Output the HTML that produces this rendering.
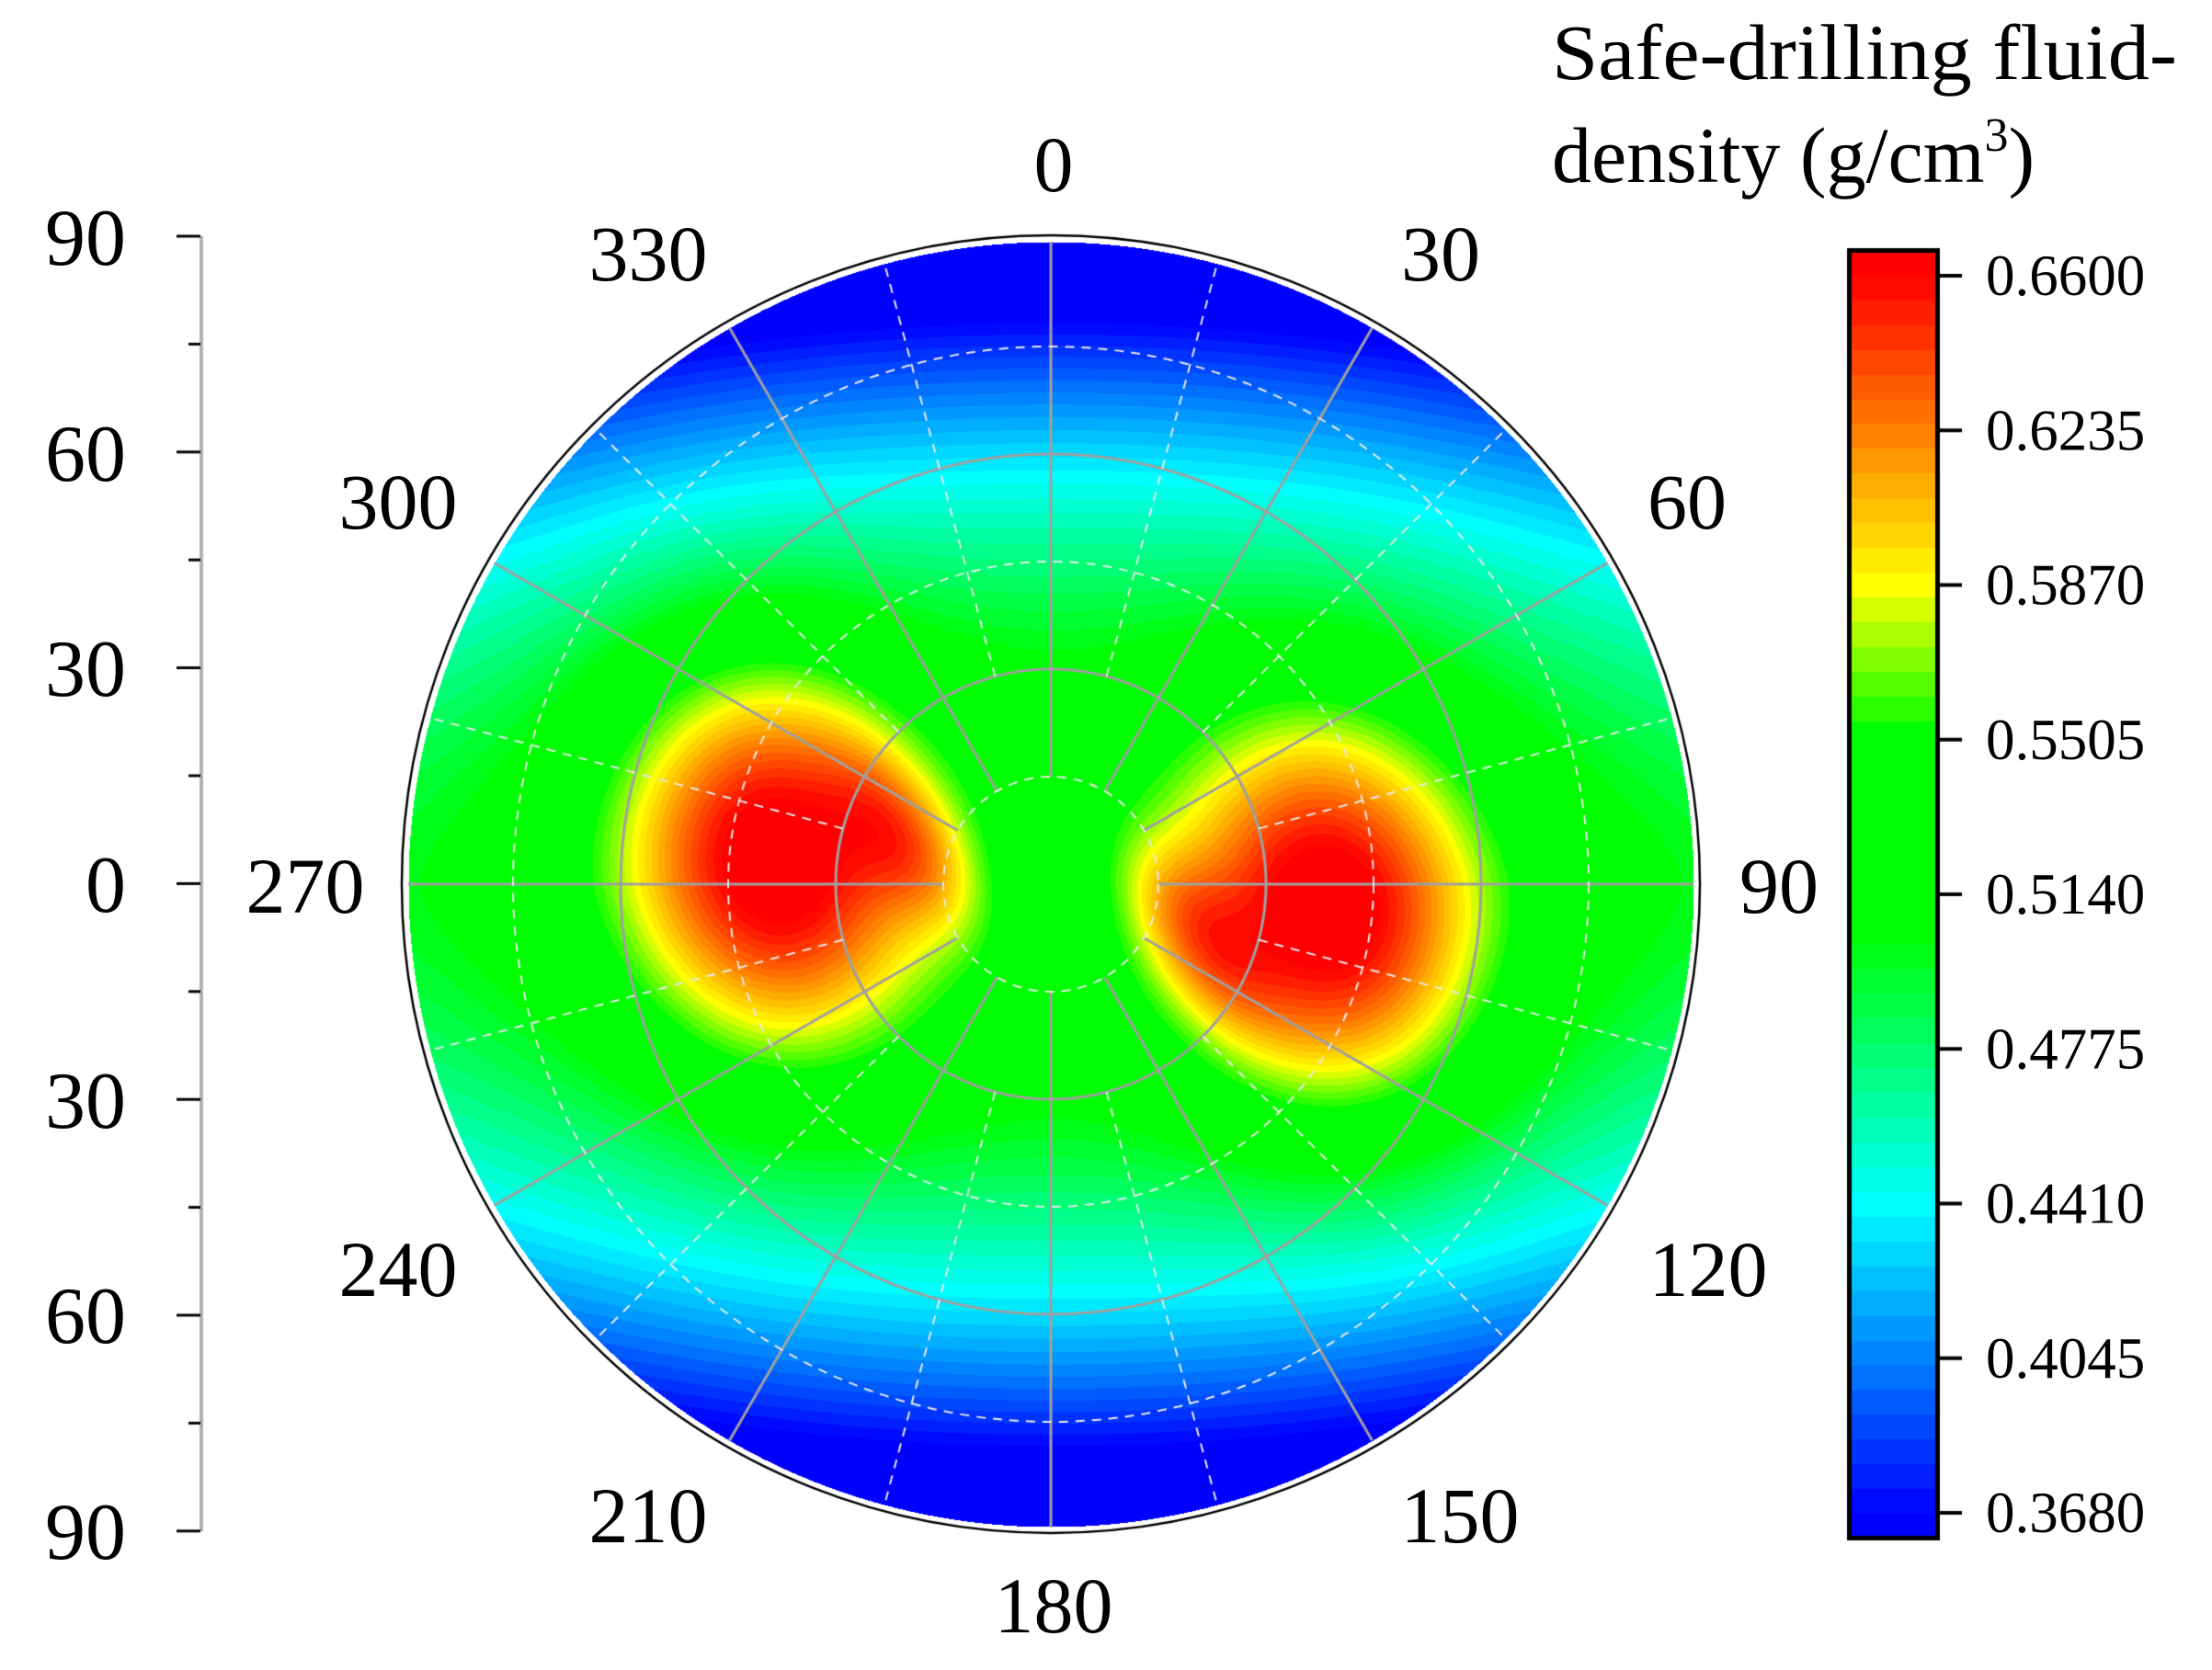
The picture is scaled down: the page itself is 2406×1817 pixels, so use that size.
<!DOCTYPE html>
<html><head><meta charset="utf-8">
<style>
html,body{margin:0;padding:0;background:#fff;}
#wrap{position:relative;width:2406px;height:1817px;overflow:hidden;background:#fff;}
canvas{position:absolute;left:0;top:0;}
svg{position:absolute;left:0;top:0;}
text{font-family:"Liberation Serif",serif;fill:#000;}
</style></head><body>
<div id="wrap">
<canvas id="c" width="2406" height="1817"></canvas>
<svg id="s" width="2406" height="1817" viewBox="0 0 2406 1817">
<g font-size="88">
<text x="137" y="288" text-anchor="end">90</text>
<text x="137" y="523" text-anchor="end">60</text>
<text x="137" y="757" text-anchor="end">30</text>
<text x="137" y="992" text-anchor="end">0</text>
<text x="137" y="1227" text-anchor="end">30</text>
<text x="137" y="1461" text-anchor="end">60</text>
<text x="137" y="1696" text-anchor="end">90</text>
</g>
<g font-size="86" text-anchor="middle">
<text x="1146" y="208">0</text>
<text x="1567" y="305">30</text>
<text x="1835" y="575">60</text>
<text x="1935" y="993">90</text>
<text x="1858" y="1410">120</text>
<text x="1588" y="1678">150</text>
<text x="1146" y="1776">180</text>
<text x="705" y="1678">210</text>
<text x="433" y="1410">240</text>
<text x="332" y="993">270</text>
<text x="433" y="575">300</text>
<text x="705" y="305">330</text>
</g>
<text x="1688" y="86" font-size="86" textLength="680" lengthAdjust="spacingAndGlyphs">Safe-drilling fluid-</text>
<text x="1688" y="198" font-size="86">density (g/cm<tspan font-size="52" dy="-34">3</tspan><tspan dy="34">)</tspan></text>
<g font-size="63" id="cbl"></g>
</svg>
</div>
<script>
var W=2406,H=1817,cx=1143,cy=962,R=703,Rd=699;
var cv=document.getElementById('c'),ctx=cv.getContext('2d');
var stops=[[0.368,[0,0,255]],[0.441,[0,255,255]],[0.505,[0,255,0]],[0.552,[0,255,0]],[0.587,[255,255,0]],[0.623,[255,128,0]],[0.66,[255,0,0]]];
var vmin=0.362,vmax=0.666,NL=52;
function col(v){
  var q=Math.floor((v-vmin)/(vmax-vmin)*NL);if(q<0)q=0;if(q>NL-1)q=NL-1;
  v=vmin+(q+0.5)*(vmax-vmin)/NL;
  if(v<=stops[0][0])return stops[0][1];
  for(var i=1;i<stops.length;i++){if(v<=stops[i][0]){var a=stops[i-1],b=stops[i];var t=(v-a[0])/(b[0]-a[0]);return [a[1][0]+(b[1][0]-a[1][0])*t,a[1][1]+(b[1][1]-a[1][1])*t,a[1][2]+(b[1][2]-a[1][2])*t];}}
  return stops[stops.length-1][1];
}
function g(x,y,x0,y0,sx,sy,ang){var c=Math.cos(ang),s=Math.sin(ang);var dx=x-x0,dy=y-y0;var u=dx*c+dy*s,w=-dx*s+dy*c;return Math.exp(-(u*u/(2*sx*sx)+w*w/(2*sy*sy)));}
function field(x,y){
  var r=Math.sqrt(x*x+y*y);var th=Math.atan2(x,y);
  var cc=Math.cos(th);cc=cc*cc;
  var rn=r/90;
  var v=0.535-0.18*Math.pow(rn,1.75)*Math.pow(cc,0.8)-0.035*rn*rn;
  v+=0.15*g(x,y,-39,4,15,20,0.15);
  v+=0.15*g(x,y,39,-4,15,20,0.15);
  v+=0.05*g(x,y,-20,6,5,10,0.6)+0.05*g(x,y,20,-7,5,10,0.6);
  v-=0.02*g(x,y,0,0,8,12,0);
  return v;
}
var img=ctx.createImageData(W,H),d=img.data;
for(var py=cy-Rd;py<=cy+Rd;py++){for(var px=cx-Rd;px<=cx+Rd;px++){
  var dx=px-cx,dy=py-cy;if(dx*dx+dy*dy>Rd*Rd)continue;
  var x=dx/R*90,y=-dy/R*90;var c=col(field(x,y));var k=(py*W+px)*4;
  d[k]=c[0];d[k+1]=c[1];d[k+2]=c[2];d[k+3]=255;}}
var bx0=2014,bx1=2105,by0=275,by1=1672;
for(var py=by0;py<=by1;py++){var v=0.66-(py-300)/168.25*0.0365;var c=col(v);for(var px=bx0;px<=bx1;px++){var k=(py*W+px)*4;d[k]=c[0];d[k+1]=c[1];d[k+2]=c[2];d[k+3]=255;}}
ctx.putImageData(img,0,0);
ctx.strokeStyle='#a0a0a0';ctx.lineWidth=3;
[234,468].forEach(function(r){ctx.beginPath();ctx.arc(cx,cy,r,0,2*Math.PI);ctx.stroke();});
for(var a=0;a<360;a+=30){var t=a*Math.PI/180;ctx.beginPath();ctx.moveTo(cx+117*Math.sin(t),cy-117*Math.cos(t));ctx.lineTo(cx+Rd*Math.sin(t),cy-Rd*Math.cos(t));ctx.stroke();}
ctx.setLineDash([10,8]);ctx.strokeStyle='#e8e8e8';ctx.lineWidth=2;
[117,351,585].forEach(function(r){ctx.beginPath();ctx.arc(cx,cy,r,0,2*Math.PI);ctx.stroke();});
for(var a=15;a<360;a+=30){var t=a*Math.PI/180;ctx.beginPath();ctx.moveTo(cx+234*Math.sin(t),cy-234*Math.cos(t));ctx.lineTo(cx+Rd*Math.sin(t),cy-Rd*Math.cos(t));ctx.stroke();}
ctx.setLineDash([]);
ctx.strokeStyle='#000';ctx.lineWidth=2.5;ctx.beginPath();ctx.arc(cx,cy,R+3,0,2*Math.PI);ctx.stroke();
ctx.lineWidth=5;ctx.strokeRect(2011.5,272.5,96,1401);
ctx.lineWidth=4;
var labs=['0.6600','0.6235','0.5870','0.5505','0.5140','0.4775','0.4410','0.4045','0.3680'];
var g2=document.getElementById('cbl'),ns='http://www.w3.org/2000/svg';
for(var i=0;i<9;i++){var y=300+i*168.25;ctx.beginPath();ctx.moveTo(2109,y);ctx.lineTo(2134,y);ctx.stroke();
 var t=document.createElementNS(ns,'text');t.setAttribute('x','2160');t.setAttribute('y',(y+21).toFixed(1));t.textContent=labs[i];g2.appendChild(t);}
ctx.strokeStyle='#b0b0b0';ctx.lineWidth=4;ctx.beginPath();ctx.moveTo(219,257);ctx.lineTo(219,1666);ctx.stroke();
ctx.strokeStyle='#000';ctx.lineWidth=3;
for(var i=0;i<=12;i++){var y=257+i*117.4;var L=(i%2==0)?26:13;ctx.beginPath();ctx.moveTo(218-L,y);ctx.lineTo(218,y);ctx.stroke();}
</script>
</body></html>
